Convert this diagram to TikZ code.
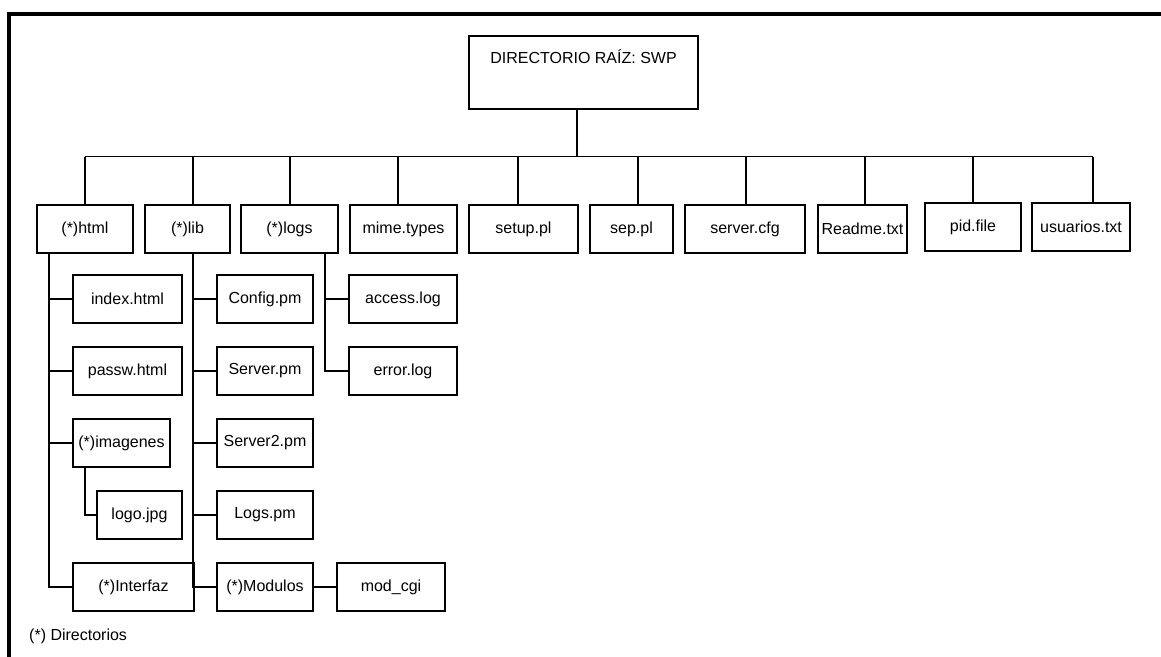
\documentclass[tikz,border=0pt]{standalone}
\usepackage{fontspec}
\setmainfont{Liberation Sans}
\begin{document}
\begin{tikzpicture}[x=1pt,y=-1pt,
  box/.style={draw,line width=1.6pt,minimum height=48,inner sep=0pt},
  link/.style={line width=1.6pt},
  font=\fontsize{16}{19}\selectfont]
\useasboundingbox (0,0) rectangle (1161,656);
\draw[line width=3.5pt] (9,660) -- (9,14) -- (1165,14);
\node[draw,line width=1.6pt,minimum width=229,inner sep=0pt,text height=27,text depth=46,anchor=base] (root) at (583.5,63) {DIRECTORIO RAÍZ: SWP};
\node[box,minimum width=96] (html) at (85,229) {(*)html};
\node[box,minimum width=85] (lib) at (187.5,229) {(*)lib};
\node[box,minimum width=97] (logs) at (289.5,229) {(*)logs};
\node[box,minimum width=107] (mime) at (403.5,229) {mime.types};
\node[box,minimum width=109] (setup) at (523.5,229) {setup.pl};
\node[box,minimum width=83] (sep) at (631.5,229) {sep.pl};
\node[box,minimum width=120] (servercfg) at (745,229) {server.cfg};
\node[box,minimum width=89] (readme) at (862.5,229) {Readme.txt};
\node[box,minimum width=96] (pid) at (973,227) {pid.file};
\node[box,minimum width=98] (usuarios) at (1081,227) {usuarios.txt};
\coordinate (bus) at (0,156.5);
\draw[link] ([xshift=-6.5pt]root.south) -- ([xshift=-6.5pt]root.south |- bus);
\draw[link] (html.north |- bus) -- ([xshift=12pt]usuarios.north |- bus);
\foreach \n/\d in {html/0,lib/5.5,logs/0.5,mime/-5.5,setup/-5.5,sep/6.5,servercfg/1,readme/2.5,pid/0,usuarios/12}
\draw[link] ([xshift=\d pt]\n.north) -- ([xshift=\d pt]\n.north |- bus);
\node[box,minimum width=109] (index) at (127.5,299) {index.html};
\node[box,minimum width=109] (passw) at (127.5,371) {passw.html};
\node[box,minimum width=97] (imagenes) at (121.5,443) {(*)imagenes};
\node[box,minimum width=85] (logo) at (139.5,515) {logo.jpg};
\node[box,minimum width=121] (interfaz) at (133.5,587) {(*)Interfaz};
\node[box,minimum width=96] (config) at (265,299) {Config.pm};
\node[box,minimum width=96] (server) at (265,371) {Server.pm};
\node[box,minimum width=96] (servertwo) at (265,443) {Server2.pm};
\node[box,minimum width=96] (logspm) at (265,515) {Logs.pm};
\node[box,minimum width=96] (modulos) at (265,587) {(*)Modulos};
\node[box,minimum width=108] (modcgi) at (391,587) {mod\_cgi};
\node[box,minimum width=108] (access) at (403,299) {access.log};
\node[box,minimum width=108] (errorlog) at (403,371) {error.log};
\coordinate (htmltrunk) at (49,0);
\coordinate (libtrunk) at (193,0);
\coordinate (logstrunk) at (325,0);
\coordinate (imgtrunk) at (85,0);
\draw[link] (html.south -| htmltrunk) |- (interfaz.west);
\foreach \n in {index,passw,imagenes}
\draw[link] (\n.west) -- (\n.west -| htmltrunk);
\draw[link] (imagenes.south -| imgtrunk) |- (logo.west);
\draw[link] (lib.south -| libtrunk) |- (modulos.west);
\foreach \n in {config,server,servertwo,logspm}
\draw[link] (\n.west) -- (\n.west -| libtrunk);
\draw[link] (modulos.east) -- (modcgi.west);
\draw[link] (logs.south -| logstrunk) |- (errorlog.west);
\draw[link] (access.west) -- (access.west -| logstrunk);
\node[anchor=base west,inner sep=0pt] (nota) at (29,640) {(*) Directorios};
\end{tikzpicture}
\end{document}
